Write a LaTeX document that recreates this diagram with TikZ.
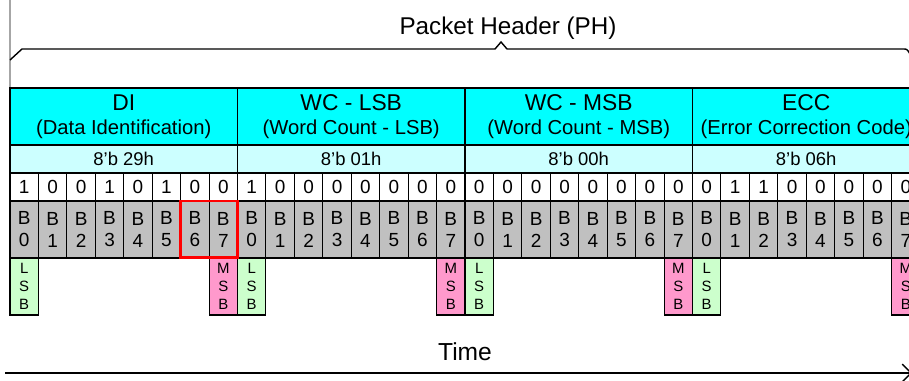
\documentclass[tikz,border=0pt]{standalone}
\usepackage{fontspec}
\setmainfont{Liberation Sans}
\usetikzlibrary{arrows.meta}

\definecolor{hdrcyan}{RGB}{0,255,255}
\definecolor{hexcyan}{RGB}{204,255,255}
\definecolor{bitgray}{RGB}{192,192,192}
\definecolor{lsbgreen}{RGB}{204,255,204}
\definecolor{msbpink}{RGB}{255,153,204}

\begin{document}
\begin{tikzpicture}[x=0.02cm,y=-0.02cm,
  cell/.style={draw,anchor=north west,inner sep=0pt,outer sep=0pt,line width=0.6pt},
  bytebox/.style={cell,fill=hdrcyan,minimum width=4.55cm,minimum height=1.14cm,align=center},
  hexbox/.style={cell,fill=hexcyan,minimum width=4.55cm,minimum height=0.56cm,font=\fontsize{10.5}{12}\selectfont},
  bitbox/.style={cell,fill=white,minimum width=0.56875cm,minimum height=0.56cm,font=\fontsize{10.8}{12}\selectfont},
  numbox/.style={cell,fill=bitgray,minimum width=0.56875cm,minimum height=1.14cm,align=center,font=\fontsize{10.8}{12.5}\selectfont},
  tagbox/.style={cell,minimum width=0.56875cm,minimum height=1.14cm,align=center,font=\fontsize{8.5}{10.2}\selectfont},
  biglabel/.style={font=\fontsize{13.8}{16}\selectfont}]

\useasboundingbox (0,0) rectangle (909,381);
\clip (0,0) rectangle (909,381);

% packet header brace
\draw[gray!70,line width=0.6pt] (10,0) -- (10,88);
\draw[line width=0.8pt] (10,60) -- (22,49) -- (495,49) -- (501,42) -- (507,49)
  -- (903,49) .. controls (907,49) .. (910,54);
\node[biglabel] (ph) at (508,28) {Packet Header (PH)};

% bytes, bits and bit numbers
\foreach \name/\sub/\hex/\bits [count=\i from 0] in
  {DI/Data Identification/29/{1,0,0,1,0,1,0,0},
   WC - LSB/Word Count - LSB/01/{1,0,0,0,0,0,0,0},
   WC - MSB/Word Count - MSB/00/{0,0,0,0,0,0,0,0},
   ECC/Error Correction Code/06/{0,1,1,0,0,0,0,0}}{
  \pgfmathsetmacro\bx{10+227.5*\i}
  \node[bytebox] (hdr\i) at (\bx,88)
    {{\fontsize{13}{15.5}\selectfont \name}\\[1.8pt]{\fontsize{11.5}{13}\selectfont (\sub)}};
  \node[hexbox] (hex\i) at (\bx,145) {8'b \hex h};
  \foreach \b [count=\j from 0] in \bits {
    \node[bitbox] (bit\i\j) at (\bx+28.4375*\j,173) {\b};
    \node[numbox] (num\i\j) at (\bx+28.4375*\j,201) {B\\\j};
  }
  \node[tagbox,fill=lsbgreen] (lsb\i) at (\bx,258) {L\\S\\B};
  \node[tagbox,fill=msbpink] (msb\i) at (\bx+28.4375*7,258) {M\\S\\B};
}

% highlighted bits
\draw[red,line width=1.7pt] (num06.north west) rectangle (num07.south east);

% time axis
\node[font=\fontsize{14}{16}\selectfont] (time) at (465,352) {Time};
\coordinate (tstart) at (5,373);
\coordinate (tend) at (912,373);
\draw[line width=0.8pt,-{Straight Barb[length=5pt]}] (tstart) -- (tend);

\end{tikzpicture}
\end{document}
